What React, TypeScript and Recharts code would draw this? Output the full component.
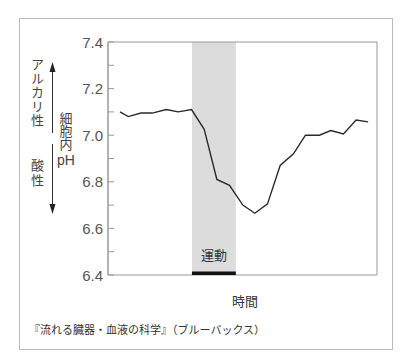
import React from 'react';
import { ComposedChart, Line, XAxis, YAxis, ReferenceArea } from 'recharts';

// time (arbitrary units along the horizontal axis)
const times = [0.95, 1.6, 2.6, 3.5, 4.6, 5.55, 6.6, 7.6, 8.6, 9.6, 10.65, 11.6, 12.6, 13.6, 14.65, 15.6, 16.7, 17.6, 18.6, 19.6, 20.55];
// intracellular pH
const phValues = [7.1, 7.08, 7.095, 7.095, 7.11, 7.1, 7.11, 7.025, 6.81, 6.785, 6.7, 6.665, 6.705, 6.87, 6.92, 7.0, 7.0, 7.02, 7.005, 7.065, 7.057];
const timeDomain = [0, 21.25];
const exercisePeriod = [6.63, 10.1];
const yTicks = [6.4, 6.5, 6.6, 6.7, 6.8, 6.9, 7.0, 7.1, 7.2, 7.3, 7.4];
const yDomain = [6.4, 7.4];

const data = times.map((t, i) => ({ t, ph: phValues[i] }));

const JP = '"Noto Sans CJK JP", "Noto Sans", sans-serif';
const NUM = '"Liberation Sans", Arial, sans-serif';

const YTick = (props: any) => {
  const { x, y, payload } = props;
  const v = payload.value as number;
  const major = Math.round(v * 10) % 2 === 0;
  return (
    <g>
      <line x1={x} x2={x + 6} y1={y} y2={y} stroke="#999" strokeWidth={1} />
      {major && (
        <text x={x - 5} y={y} dy={5.5} textAnchor="end" fontSize={15} fill="#555" fontFamily={NUM}>
          {v.toFixed(1)}
        </text>
      )}
    </g>
  );
};

export default function App() {
  return (
    <div style={{ position: 'absolute', left: 0, top: 0, width: 400, height: 364, background: '#fff' }}>
      <ComposedChart width={400} height={364} data={data} margin={{ top: 42, right: 23, bottom: 89, left: 78 }}>
        <XAxis type="number" dataKey="t" domain={timeDomain} hide height={0} />
        <YAxis
          type="number"
          domain={yDomain}
          ticks={yTicks}
          interval={0}
          width={30}
          tickSize={0}
          tickMargin={0}
          tickLine={false}
          axisLine={{ stroke: '#999' }}
          tick={<YTick />}
          allowDataOverflow
        />
        <ReferenceArea
          x1={exercisePeriod[0]}
          x2={exercisePeriod[1]}
          y1={yDomain[0]}
          y2={yDomain[1]}
          fill="#dcdcdc"
          fillOpacity={1}
          stroke="none"
          label={{ value: '運動', position: 'insideBottom', offset: 15, fontSize: 13, fill: '#333', fontFamily: JP }}
        />
        <ReferenceArea
          x1={timeDomain[0]}
          x2={timeDomain[1]}
          y1={yDomain[0]}
          y2={yDomain[1]}
          fill="none"
          stroke="#999"
          strokeWidth={1}
        />
        <Line
          type="linear"
          dataKey="ph"
          stroke="#2a2a2a"
          strokeWidth={1.4}
          dot={false}
          isAnimationActive={false}
        />
        <ReferenceArea
          x1={exercisePeriod[0]}
          x2={exercisePeriod[1]}
          y1={yDomain[0]}
          y2={6.415}
          fill="#111"
          fillOpacity={1}
          stroke="none"
        />
      </ComposedChart>
      <svg width={400} height={364} style={{ position: 'absolute', left: 0, top: 0, pointerEvents: 'none' }}>
        <rect x={19.5} y={18.5} width={373} height={331} fill="none" stroke="#bbb" strokeWidth={1} />
        <text x={37.5} y={58} fontSize={13} fill="#444" fontFamily={JP} style={{ writingMode: 'vertical-rl' }} letterSpacing={1}>
          アルカリ性
        </text>
        <text x={37.5} y={159} fontSize={13} fill="#444" fontFamily={JP} style={{ writingMode: 'vertical-rl' }} letterSpacing={2}>
          酸性
        </text>
        <text x={66} y={112} fontSize={13} fill="#444" fontFamily={JP} style={{ writingMode: 'vertical-rl' }} letterSpacing={0}>
          細胞内
        </text>
        <text x={66} y={165} fontSize={14} fill="#444" fontFamily={NUM} textAnchor="middle">
          pH
        </text>
        <line x1={52.5} x2={52.5} y1={133} y2={70} stroke="#333" strokeWidth={1} />
        <path d="M52.5 62 L49.5 72 L55.5 72 Z" fill="#222" />
        <line x1={52.5} x2={52.5} y1={144} y2={206} stroke="#333" strokeWidth={1} />
        <path d="M52.5 214 L49.5 204 L55.5 204 Z" fill="#222" />
        <text x={245} y={306} fontSize={13} fill="#333" fontFamily={JP} textAnchor="middle">
          時間
        </text>
        <text x={29} y={334} fontSize={11} fill="#333" fontFamily={JP}>
          『流れる臓器・血液の科学』（ブルーバックス）
        </text>
      </svg>
    </div>
  );
}
